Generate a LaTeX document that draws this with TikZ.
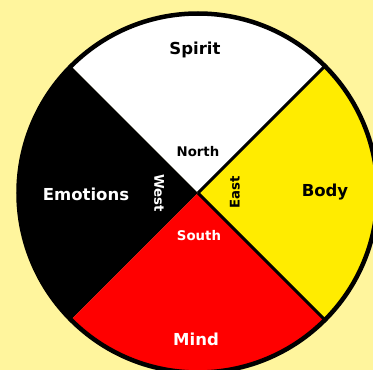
\documentclass[tikz,border=0pt]{standalone}
\usepackage{fontspec}
\setmainfont{DejaVu Sans}
\definecolor{bgyellow}{RGB}{255,245,157}
\definecolor{wheelyellow}{RGB}{255,236,0}
\definecolor{wheelred}{RGB}{255,0,0}
\begin{document}
\begin{tikzpicture}[x=1pt,y=1pt,
  biglabel/.style={font=\bfseries\fontsize{16.5}{18}\selectfont,inner sep=0pt,text height=0.73em,text depth=0pt},
  smalllabel/.style={font=\bfseries\fontsize{13.3}{15}\selectfont,inner sep=0pt,text height=0.73em,text depth=0pt},
  divider/.style={draw=black,line width=3pt}]
\useasboundingbox (-198,-177) rectangle (175,193);
\fill[bgyellow] (-198,-177) rectangle (175,193);
\clip (-198,-177) rectangle (175,193);
\def\R{179.5}
\fill[white] (0,0) -- (45:\R) arc[start angle=45,end angle=135,radius=\R] -- cycle;
\fill[black] (0,0) -- (135:\R) arc[start angle=135,end angle=225,radius=\R] -- cycle;
\fill[wheelred] (0,0) -- (225:\R) arc[start angle=225,end angle=315,radius=\R] -- cycle;
\fill[wheelyellow] (0,0) -- (-45:\R) arc[start angle=-45,end angle=45,radius=\R] -- cycle;
\coordinate (c) at (0,0);
\coordinate (ne) at (45:\R);
\coordinate (se) at (-45:\R);
\draw[divider] (c) -- (ne);
\draw[divider] (c) -- (se);
\draw[line width=4.5pt] (c) circle[radius=\R];
\node[biglabel,text=black] (spirit) at (-3,142) {Spirit};
\node[smalllabel,text=black] (north) at (0,40) {North};
\node[biglabel,text=white] (emotions) at (-112,-3.5) {Emotions};
\node[smalllabel,text=white,rotate=-90] (west) at (-40,0) {West};
\node[smalllabel,text=black,rotate=90] (east) at (38,1) {East};
\node[biglabel,text=black] (body) at (127,0.5) {Body};
\node[smalllabel,text=white] (south) at (1,-44) {South};
\node[biglabel,text=white] (mind) at (-2,-148.5) {Mind};
\end{tikzpicture}
\end{document}
